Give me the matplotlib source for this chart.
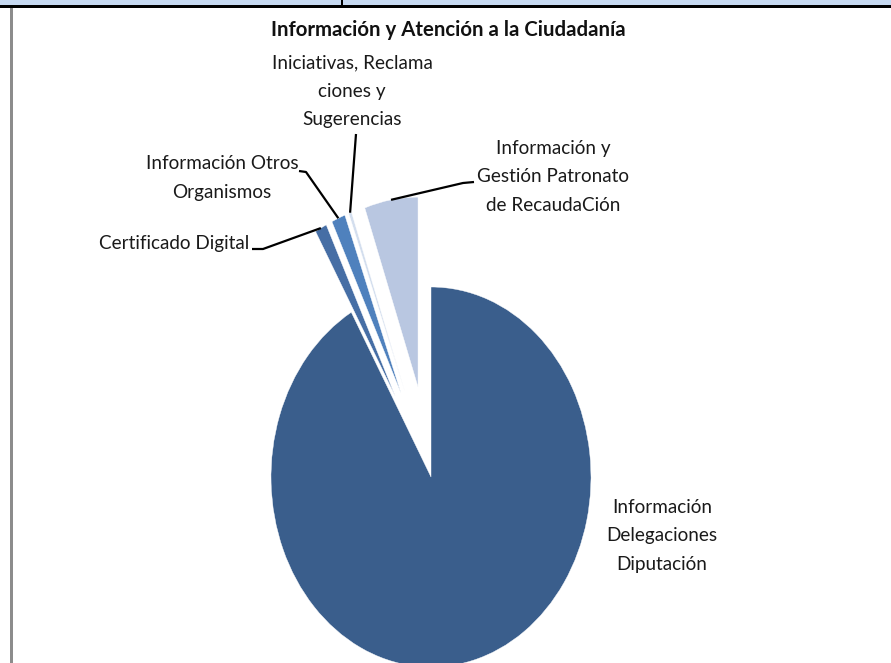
import matplotlib
matplotlib.use('Agg')
import matplotlib.pyplot as plt
from matplotlib.patches import Rectangle
from matplotlib.lines import Line2D
import numpy as np

# ---- data ----
categories = ['Información\nDelegaciones\nDiputación',
              'Certificado Digital',
              'Información Otros\nOrganismos',
              'Iniciativas, Reclama\nciones y\nSugerencias',
              'Información y\nGestión Patronato\nde RecaudaCión']
values = [91.7, 1.2, 1.4, 0.3, 5.4]
title = 'Información y Atención a la Ciudadanía'

# ---- style ----
colors = ['#3A5E8C', '#466EA5', '#4F81BD', '#D3DEEE', '#B9C7E1']
explode = [0, 0.48, 0.48, 0.48, 0.48]
FONT = ['Lato', 'DejaVu Sans']

W, H = 891, 663
fig = plt.figure(figsize=(W / 100, H / 100), dpi=100)
ax = fig.add_axes([0, 0, 1, 1])

cx, cy, rx, ry = 431, 477, 160, 190   # pie centre / radii in pixels (source is squeezed horizontally)

wedges, _ = ax.pie(values, colors=colors, explode=explode, startangle=90,
                   counterclock=False, radius=1,
                   wedgeprops=dict(edgecolor='white', linewidth=0.3))
ax.set_aspect('auto')
ax.set_xlim(-cx / rx, (W - cx) / rx)
ax.set_ylim(-(H - cy) / ry, cy / ry)
ax.axis('off')


def p2d(px, py):
    return ((px - cx) / rx, (cy - py) / ry)


# label layout (pixel positions of text block centre, and leader elbows)
label_pos = {1: (174, 244), 2: (222, 178), 3: (352, 91), 4: (553, 177), 0: (662, 536)}
leaders = {1: [(263, 249), (252, 249)],
           2: [(306, 172), (299, 171)],
           3: [(356, 134)],
           4: [(463, 183), (474, 182)]}

for i, lab in enumerate(categories):
    px, py = label_pos[i]
    fig.text(px / W, 1 - py / H, lab, ha='center', va='center',
             fontsize=13.6, family=FONT, linespacing=1.83, color='#1a1a1a')

for i, pts in leaders.items():
    w = wedges[i]
    mid = np.deg2rad((w.theta1 + w.theta2) / 2)
    ax0 = w.center[0] + w.r * np.cos(mid)
    ay0 = w.center[1] + w.r * np.sin(mid)
    xs = [ax0] + [p2d(*p)[0] for p in pts]
    ys = [ay0] + [p2d(*p)[1] for p in pts]
    ax.add_line(Line2D(xs, ys, color='black', lw=1.6, solid_capstyle='butt'))

fig.text(448 / W, 1 - 30 / H, title, ha='center', va='center',
         fontsize=14.7, fontweight='bold', family=FONT, color='#111111')

# page/table decoration around the embedded chart
fig.patches.append(Rectangle((0, 1 - 5 / H), 1, 5 / H, transform=fig.transFigure,
                             facecolor='#C6D9F1', edgecolor='none'))
fig.patches.append(Rectangle((0, 1 - 8 / H), 1, 3 / H, transform=fig.transFigure,
                             facecolor='black', edgecolor='none'))
fig.patches.append(Rectangle((341 / W, 1 - 6 / H), 1.5 / W, 6 / H, transform=fig.transFigure,
                             facecolor='black', edgecolor='none'))
fig.patches.append(Rectangle((10 / W, 0), 2.5 / W, 1 - 8 / H, transform=fig.transFigure,
                             facecolor='#8C8C8C', edgecolor='none'))

fig.savefig('out.png', dpi=100)
